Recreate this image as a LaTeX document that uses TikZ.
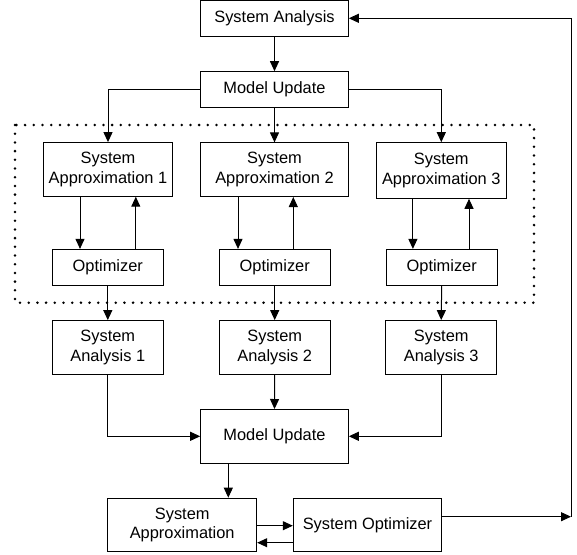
\documentclass[tikz,border=0pt]{standalone}
\usepackage{fontspec}
\setmainfont{Liberation Sans}
\usetikzlibrary{arrows.meta}

\tikzset{
  blk/.style={draw=black, line width=1pt, inner sep=0pt, align=center,
    font=\fontsize{16.4}{19.7}\selectfont, text=black},
  wide/.style={blk, minimum width=147.6pt},
  mid/.style={blk, minimum width=129.4pt},
  narrow/.style={blk, minimum width=111pt},
  onerow/.style={minimum height=35.6pt},
  tworow/.style={minimum height=53.6pt},
  arr/.style={line width=1pt, -{Triangle[length=10pt, width=9pt]}},
  grp/.style={line width=2.8pt, line cap=round, dash pattern=on 0pt off 8.7pt}
}

\begin{document}
\begin{tikzpicture}[x=1pt, y=-1pt]
\useasboundingbox (0,0) rectangle (577,554);

% dotted frame round the three approximation/optimizer loops
\draw[grp] (15,125) rectangle (534,302.7);

% top level
\node[wide, onerow] (sa)  at (274.5,18.3)  {System Analysis};
\node[wide, onerow] (mu)  at (274.5,89.5)  {Model Update};

% approximations
\node[mid, tworow]  (ap1) at (108,169.4)   {System\\Approximation 1};
\node[wide, tworow] (ap2) at (274.5,169.7) {System\\Approximation 2};
\node[mid, tworow, minimum height=55.6pt] (ap3) at (441.3,170.5) {System\\Approximation 3};

% optimizers
\node[narrow, onerow] (op1) at (107.8,267.2) {Optimizer};
\node[narrow, onerow] (op2) at (274.7,267.2) {Optimizer};
\node[narrow, onerow] (op3) at (441.7,267.2) {Optimizer};

% analyses
\node[narrow, tworow] (an1) at (107.8,347.4) {System\\Analysis 1};
\node[narrow, tworow] (an2) at (274.7,347.4) {System\\Analysis 2};
\node[narrow, tworow] (an3) at (441.2,347.4) {System\\Analysis 3};

% lower level
\node[wide, tworow] (mu2) at (274.5,436.3) {Model Update};
\node[blk, minimum width=149pt, tworow] (sap) at (182.2,525) {System\\Approximation};
\node[blk, minimum width=148.4pt, tworow] (sop) at (367.5,525) {System Optimizer};

\coordinate (fb) at (571,516.7);

% connectors
\draw[arr] (sa.south) -- (mu.north);
\draw[arr] (mu.west) -| (ap1.north);
\draw[arr] (mu.south) -- (ap2.north);
\draw[arr] (mu.east) -| (ap3.north);

\draw[arr] ([xshift=-28pt]ap1.south) -- ([xshift=-28pt]ap1.south |- op1.north);
\draw[arr] ([xshift=28pt]op1.north) -- ([xshift=28pt]op1.north |- ap1.south);
\draw[arr] ([xshift=-36.5pt]ap2.south) -- ([xshift=-36.5pt]ap2.south |- op2.north);
\draw[arr] ([xshift=18.6pt]op2.north) -- ([xshift=18.6pt]op2.north |- ap2.south);
\draw[arr] ([xshift=-28.4pt]ap3.south) -- ([xshift=-28.4pt]ap3.south |- op3.north);
\draw[arr] ([xshift=27.3pt]op3.north) -- ([xshift=27.3pt]op3.north |- ap3.south);

\draw[arr] (op1.south) -- (an1.north);
\draw[arr] (op2.south) -- (an2.north);
\draw[arr] (op3.south) -- (an3.north);

\draw[arr] (an1.south) |- (mu2.west);
\draw[arr] (an2.south) -- (mu2.north);
\draw[arr] (an3.south) |- (mu2.east);

\draw[arr] ([xshift=-46.2pt]mu2.south) -- ([xshift=-46.2pt]mu2.south |- sap.north);
\draw[arr] ([yshift=-0.7pt]sap.east) -- ([yshift=-0.7pt]sop.west);
\draw[arr] ([yshift=-17.7pt]sop.west) -- ([yshift=-17.7pt]sap.east);

\draw[arr] ([yshift=8.3pt]sop.east) -- (fb);
\draw[arr] (fb) |- (sa.east);
\end{tikzpicture}
\end{document}
